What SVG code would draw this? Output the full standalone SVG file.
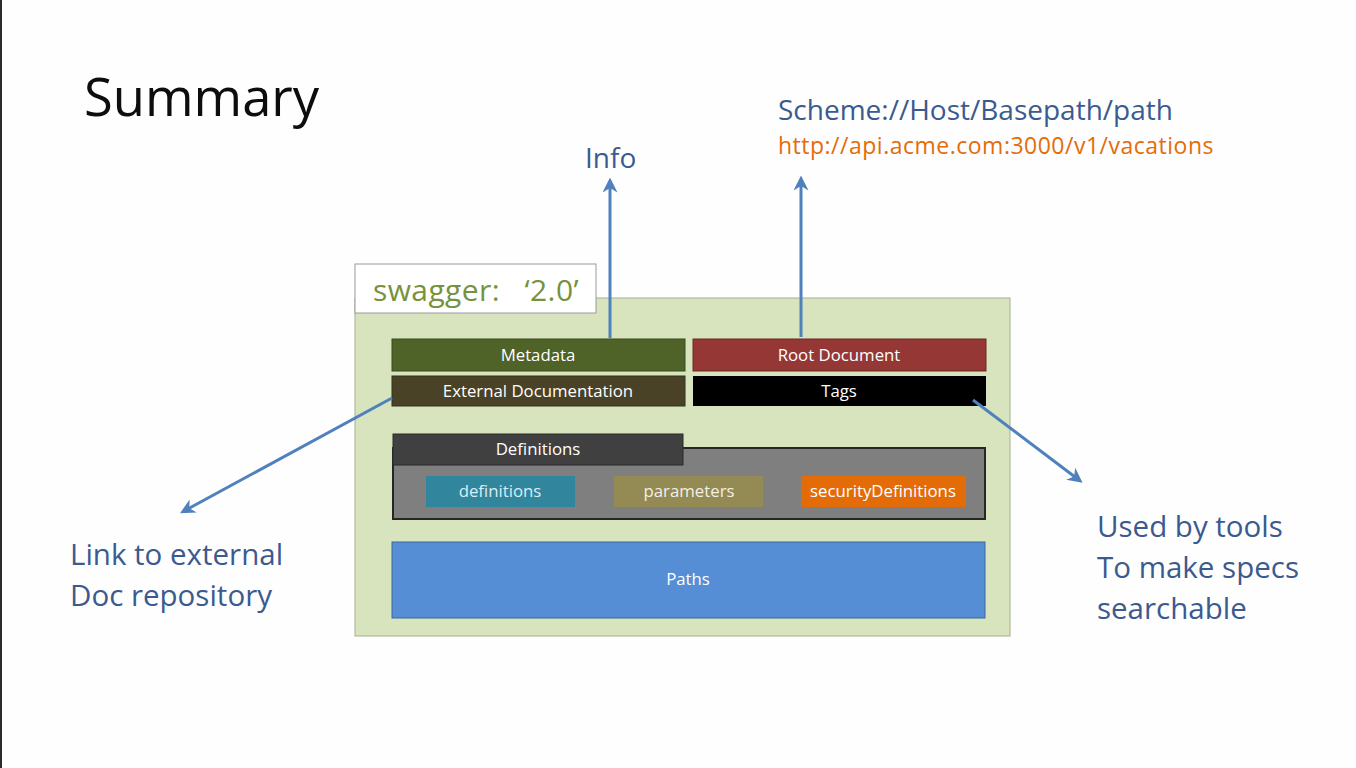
<svg xmlns="http://www.w3.org/2000/svg" width="1356" height="768" viewBox="0 0 1356 768">
<defs>
<style>
text{font-family:"Open Sans","Noto Sans","Liberation Sans",sans-serif}
.bar{font-size:16.8px;fill:#ffffff;text-anchor:middle}
.note{font-size:29.5px;fill:#3b5a8f}
.conn{stroke:#4f81bd;stroke-width:3;fill:none;marker-end:url(#ah)}
</style>
<marker id="ah" viewBox="0 0 10 10" refX="7" refY="5" markerWidth="5" markerHeight="5" orient="auto" markerUnits="strokeWidth">
<path d="M0,0 L10,5 L0,10 L3,5 Z" fill="#4f81bd"/>
</marker>
</defs>
<rect x="0" y="0" width="1356" height="768" fill="#fefefe"/>
<rect x="0" y="0" width="2" height="768" fill="#2b2b2b"/>
<text x="84" y="116" font-size="52.5" fill="#0d0d0d">Summary</text>

<g id="container">
<rect x="355" y="298" width="655" height="338" fill="#d8e4bd" stroke="#a6b08c" stroke-width="1"/>
</g>
<g id="swagger">
<rect x="355" y="264" width="241" height="49" fill="#ffffff" stroke="#9a9a9a" stroke-width="1"/>
<text x="373" y="301" font-size="30" letter-spacing="0.4" fill="#76923c" xml:space="preserve">swagger:   ‘2.0’</text>
</g>
<g id="metadata">
<rect x="392" y="339" width="293" height="32" fill="#4f6228" stroke="#3b4a1e" stroke-width="1"/>
<text class="bar" x="538" y="361">Metadata</text>
</g>
<g id="externalDocs">
<rect x="392" y="376" width="293" height="30" fill="#4a4226" stroke="#33301c" stroke-width="1"/>
<text class="bar" x="538" y="397">External Documentation</text>
</g>
<g id="rootDocument">
<rect x="693" y="339" width="293" height="32" fill="#953735" stroke="#6e2826" stroke-width="1"/>
<text class="bar" x="839" y="361">Root Document</text>
</g>
<g id="tags">
<rect x="693" y="376" width="293" height="30" fill="#000000"/>
<text class="bar" x="839" y="397">Tags</text>
</g>
<g id="definitionsGroup">
<rect x="393" y="448" width="592" height="71" fill="#7f7f7f" stroke="#262626" stroke-width="2"/>
<rect x="393" y="434" width="290" height="31" fill="#404040" stroke="#2a2a2a" stroke-width="1"/>
<text class="bar" x="538" y="455">Definitions</text>
</g>
<g id="definitions">
<rect x="426" y="476" width="149" height="31" fill="#31859c"/>
<text class="bar" x="500" y="497" style="fill:#dbeef4">definitions</text>
</g>
<g id="parameters">
<rect x="614" y="476" width="149" height="31" fill="#948a54"/>
<text class="bar" x="689" y="497" style="fill:#f2f0e6">parameters</text>
</g>
<g id="securityDefinitions">
<rect x="801" y="476" width="165" height="31" fill="#e36c09"/>
<text class="bar" x="883" y="497">securityDefinitions</text>
</g>
<g id="paths">
<rect x="392" y="542" width="593" height="76" fill="#558ed5" stroke="#3a679e" stroke-width="1"/>
<text class="bar" x="688" y="585">Paths</text>
</g>

<g id="connectors">
<line class="conn" x1="610" y1="338" x2="610" y2="182"/>
<line class="conn" x1="801" y1="337" x2="801" y2="180"/>
<line class="conn" x1="392" y1="398" x2="184" y2="511"/>
<line class="conn" x1="973" y1="400" x2="1079" y2="480"/>
</g>

<g id="labels">
<text x="585" y="168" font-size="28" fill="#3b5a8f">Info</text>
<text x="778" y="120" font-size="28" fill="#3b5a8f">Scheme://Host/Basepath/path</text>
<text x="778" y="154" font-size="23" letter-spacing="0.5" fill="#e46c0a">http://api.acme.com:3000/v1/vacations</text>
<text class="note" x="70" y="565">Link to external</text>
<text class="note" x="70" y="606">Doc repository</text>
<text class="note" x="1097" y="537">Used by tools</text>
<text class="note" x="1097" y="578">To make specs</text>
<text class="note" x="1097" y="619">searchable</text>
</g>
</svg>
